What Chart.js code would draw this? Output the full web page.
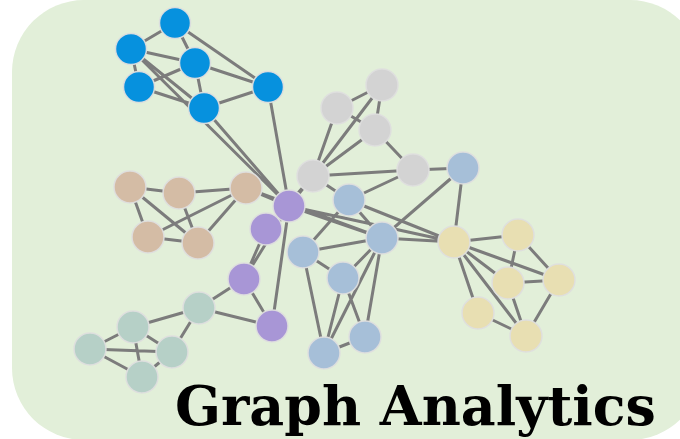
<!DOCTYPE html>
<html>
<head>
<meta charset="utf-8">
<script src="https://cdn.jsdelivr.net/npm/chart.js@4.4.0/dist/chart.umd.min.js"></script>
<style>
  html, body { margin: 0; padding: 0; background: #ffffff; }
  #wrap { width: 680px; height: 439px; }
</style>
</head>
<body>
<div id="wrap"><canvas id="graphChart" width="680" height="439"></canvas></div>
<script>
// node data (x, y in picture units)
var nodeNames = ["B1", "B2", "B3", "B4", "B5", "B6",
                 "G1", "G2", "G3", "G4", "G5",
                 "P1", "P2", "P3", "P4",
                 "T1", "T2", "T3", "T4", "T5",
                 "TL1", "TL2", "TL3", "TL4", "TL5",
                 "LB1", "LB2", "LB3", "LB4", "LB5", "LB6", "LB7",
                 "Y1", "Y2", "Y3", "Y4", "Y5", "Y6"];
var nodeX = [175, 131, 195, 139, 204, 268,
             382, 337, 375, 313, 413,
             289, 266, 244, 272,
             130, 179, 246, 148, 198,
             199, 133, 90, 172, 142,
             463, 349, 382, 303, 343, 365, 324,
             454, 518, 508, 559, 478, 526];
var nodeY = [23, 49, 63, 87, 108, 87,
             85, 108, 130, 176, 170,
             206, 229, 279, 326,
             187, 193, 188, 237, 243,
             308, 327, 349, 352, 377,
             168, 200, 238, 252, 278, 337, 353,
             242, 235, 283, 280, 313, 336];
var nodeGroup = [0, 0, 0, 0, 0, 0,
                 1, 1, 1, 1, 1,
                 2, 2, 2, 2,
                 3, 3, 3, 3, 3,
                 4, 4, 4, 4, 4,
                 5, 5, 5, 5, 5, 5, 5,
                 6, 6, 6, 6, 6, 6];
var groupColors = ["rgb(6,145,222)", "rgb(211,211,211)", "rgb(168,150,214)", "rgb(212,188,165)",
                   "rgb(182,208,199)", "rgb(166,191,216)", "rgb(232,223,178)"];
var edgeFrom = ["B1", "B1", "B1", "B2", "B2", "B2", "B2", "B4", "B4", "B3", "B5", "B3", "B5", "B6",
                "G1", "G1", "G2", "G2", "G1", "G3", "G3", "G4", "G5", "G5", "G4", "G4", "P2",
                "T1", "T2", "T1", "T1", "T4", "T4", "T2", "T5", "T3", "T3",
                "P2", "P1", "P1", "P3", "TL1", "TL1",
                "TL1", "TL1", "TL2", "TL2", "TL3", "TL3", "TL2", "TL4",
                "LB1", "LB1", "LB2", "LB2", "LB2", "P1", "P1", "LB3", "LB4", "LB4", "LB4",
                "LB5", "LB5", "LB5", "LB3", "LB3", "LB7",
                "Y1", "Y1", "Y1", "Y1", "Y1", "Y2", "Y2", "Y3", "Y3", "Y4", "Y5"];
var edgeTo = ["B2", "B3", "B6", "B3", "B4", "B5", "P1", "B3", "B5", "B6", "B6", "B5", "P1", "P1",
              "G2", "G3", "G3", "G4", "G4", "G4", "G5", "G5", "LB1", "LB2", "LB2", "P1", "G4",
              "T2", "T3", "T4", "T5", "T3", "T5", "T5", "T3", "P1", "LB3",
              "P3", "P3", "P4", "P4", "P3", "P4",
              "TL2", "TL4", "TL3", "TL4", "TL4", "TL5", "TL5", "TL5",
              "LB3", "Y1", "LB3", "Y1", "LB4", "LB3", "Y1", "Y1", "LB3", "LB5", "LB7",
              "LB3", "LB6", "LB7", "LB7", "LB6", "LB6",
              "Y2", "Y3", "Y4", "Y5", "Y6", "Y3", "Y4", "Y4", "Y6", "Y6", "Y6"];
var titleText = "Graph Analytics";

// build datasets
var edgePoints = [];
for (var i = 0; i < edgeFrom.length; i++) {
    var a = nodeNames.indexOf(edgeFrom[i]);
    var b = nodeNames.indexOf(edgeTo[i]);
    edgePoints.push({x: nodeX[a], y: nodeY[a]});
    edgePoints.push({x: nodeX[b], y: nodeY[b]});
    edgePoints.push({x: null, y: null});
}
var datasets = [];
for (var g = 0; g < groupColors.length; g++) {
    var pts = [];
    for (var n = 0; n < nodeNames.length; n++) {
        if (nodeGroup[n] === g) pts.push({x: nodeX[n], y: nodeY[n]});
    }
    datasets.push({
        label: "group " + (g + 1),
        data: pts,
        pointRadius: g === 0 ? 15.5 : 16,
        pointHoverRadius: 16,
        pointBackgroundColor: groupColors[g],
        pointBorderColor: "rgba(222,222,222,0.95)",
        pointBorderWidth: 1.5,
        showLine: false,
        order: 1
    });
}
datasets.push({
    label: "edges",
    data: edgePoints,
    showLine: true,
    spanGaps: false,
    borderColor: "rgb(124,124,124)",
    borderWidth: 3,
    pointRadius: 0,
    order: 10
});

var backgroundPlugin = {
    id: "panel",
    beforeDraw: function (chart) {
        var c = chart.ctx;
        c.save();
        c.fillStyle = "#ffffff";
        c.fillRect(0, 0, chart.width, chart.height);
        c.fillStyle = "rgb(226,239,217)";
        c.beginPath();
        c.roundRect(12, 0, 690, 440, 72);
        c.fill();
        c.restore();
    },
    afterDraw: function (chart) {
        var c = chart.ctx;
        c.save();
        var size = 56;
        c.font = "bold " + size + "px 'DejaVu Serif'";
        var w = c.measureText(titleText).width;
        size = size * 481 / w;
        c.font = "bold " + size + "px 'DejaVu Serif'";
        c.fillStyle = "#000000";
        c.textBaseline = "alphabetic";
        c.fillText(titleText, 175, 425);
        c.restore();
    }
};

var ctx = document.getElementById("graphChart").getContext("2d");
var chartGraph = new Chart(ctx, {
    type: "scatter",
    data: {datasets: datasets},
    options: {
        responsive: false,
        animation: false,
        devicePixelRatio: 1,
        layout: {padding: 0, autoPadding: false},
        plugins: {legend: {display: false}, tooltip: {enabled: false}},
        scales: {
            x: {type: "linear", min: 0, max: 680, display: false},
            y: {type: "linear", min: 0, max: 439, reverse: true, display: false}
        }
    },
    plugins: [backgroundPlugin]
});
</script>
</body>
</html>
